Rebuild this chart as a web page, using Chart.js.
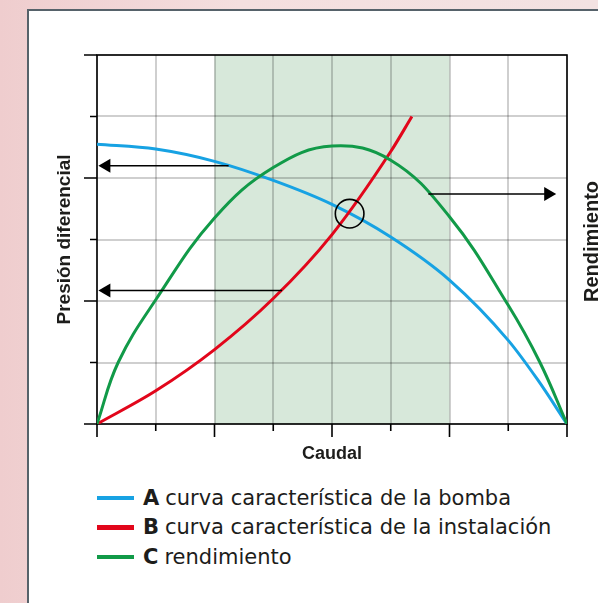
<!DOCTYPE html>
<html lang="es">
<head>
<meta charset="utf-8">
<title>Curvas de bomba e instalación</title>
<script src="https://cdn.jsdelivr.net/npm/chart.js@4.4.1/dist/chart.umd.min.js"></script>
<style>
    html, body { margin: 0; padding: 0; }
    body {
        width: 598px; height: 603px; overflow: hidden; position: relative;
        background: linear-gradient(90deg, #efcdce 0%, #f4dfdf 40%, #f3e2e2 100%);
    }
    #marco {
        position: absolute; left: 27px; top: 9px; right: -20px; bottom: -20px;
        background: #fff; border: 2.5px solid #56626a;
    }
    #grafica { position: absolute; left: 0; top: 0; }
    #leyenda {
        position: absolute; left: 97px; top: 483px; margin: 0; padding: 0; list-style: none;
        font-family: "DejaVu Sans", sans-serif; font-size: 21px; color: #1d1d1b;
    }
    #leyenda li { display: flex; align-items: center; height: 29.5px; white-space: nowrap; }
    #leyenda .muestra { width: 37px; height: 4.5px; margin-right: 9px; }
    #leyenda b { margin-right: 6px; }
</style>
</head>
<body>
<div id="marco"></div>
<canvas id="grafica" width="598" height="470"></canvas>
<ul id="leyenda"></ul>
<script>
// Datos (unidades de la cuadrícula)
const caudalBomba = [0, 1, 2, 3, 4, 5, 6, 7, 7.5, 8];
const presionBomba = [4.55, 4.47, 4.27, 3.96, 3.57, 3.04, 2.34, 1.36, 0.72, 0];
const caudalInstalacion = [0, 1, 2, 3, 4, 5, 5.36];
const presionInstalacion = [0, 0.54, 1.21, 2.04, 3.08, 4.43, 5.0];
const caudalRendimiento = [0, 0.36, 1, 2, 3, 4, 5, 6, 7, 7.54, 8];
const rendimiento = [0, 1, 2.02, 3.35, 4.17, 4.52, 4.29, 3.37, 1.93, 1, 0];

// Zona sombreada (rango de trabajo) y punto de funcionamiento
const zonaTrabajo = [2, 6];
const puntoFuncionamiento = [4.3, 3.42];

// Flechas: [x inicio, x punta], altura, sentido
const flechasX = [[2.24, 0.16], [3.15, 0.16], [5.64, 7.68]];
const flechasY = [4.2, 2.17, 3.74];
const flechasGiro = [270, 270, 90];

// Leyenda
const letras = ['A', 'B', 'C'];
const descripciones = ['curva característica de la bomba', 'curva característica de la instalación', 'rendimiento'];
const colores = ['#17a2e3', '#e2061b', '#119a48'];

const ejeX = { min: 0, max: 8 };
const ejeY = { min: 0, max: 6 };

function puntos(xs, ys) {
    return xs.map((x, i) => ({ x: x, y: ys[i] }));
}

// Leyenda en HTML
const leyenda = document.getElementById('leyenda');
letras.forEach((letra, i) => {
    const li = document.createElement('li');
    const muestra = document.createElement('span');
    muestra.className = 'muestra';
    muestra.style.background = colores[i];
    const b = document.createElement('b');
    b.textContent = letra;
    li.appendChild(muestra);
    li.appendChild(b);
    li.appendChild(document.createTextNode(descripciones[i]));
    leyenda.appendChild(li);
});

// Fondo verde de la zona de trabajo (antes de la cuadrícula)
const zonaPlugin = {
    id: 'zona',
    beforeDraw(chart) {
        const { ctx, chartArea, scales } = chart;
        const x1 = scales.x.getPixelForValue(zonaTrabajo[0]);
        const x2 = scales.x.getPixelForValue(zonaTrabajo[1]);
        ctx.save();
        ctx.fillStyle = '#d7e8da';
        ctx.fillRect(x1, chartArea.top, x2 - x1, chartArea.bottom - chartArea.top);
        ctx.restore();
    }
};

// Marco y marcas de los ejes (largas y cortas alternadas)
const marcasPlugin = {
    id: 'marcas',
    beforeDatasetsDraw(chart) {
        const { ctx, chartArea, scales } = chart;
        ctx.save();
        ctx.strokeStyle = '#000';
        ctx.lineWidth = 1.6;
        ctx.strokeRect(chartArea.left, chartArea.top, chartArea.right - chartArea.left, chartArea.bottom - chartArea.top);
        ctx.beginPath();
        scales.x.ticks.forEach((t, i) => {
            const px = scales.x.getPixelForTick(i);
            ctx.moveTo(px, chartArea.bottom);
            ctx.lineTo(px, chartArea.bottom + (i % 2 === 0 ? 13 : 7));
        });
        scales.y.ticks.forEach((t, i) => {
            const py = scales.y.getPixelForTick(i);
            ctx.moveTo(chartArea.left, py);
            ctx.lineTo(chartArea.left - (i % 2 === 0 ? 13 : 7), py);
        });
        ctx.stroke();
        ctx.restore();
    }
};

// Título del eje derecho (se lee de abajo arriba)
const rendimientoPlugin = {
    id: 'tituloDerecho',
    afterDraw(chart) {
        const { ctx, chartArea } = chart;
        ctx.save();
        ctx.translate(chartArea.right + 25, (chartArea.top + chartArea.bottom) / 2 + 2);
        ctx.rotate(-Math.PI / 2);
        ctx.font = 'bold 20px "Liberation Sans", Arial, sans-serif';
        ctx.fillStyle = '#1d1d1b';
        ctx.textAlign = 'center';
        ctx.textBaseline = 'middle';
        ctx.fillText('Rendimiento', 0, 0);
        ctx.restore();
    }
};

const curvas = [
    { data: puntos(caudalBomba, presionBomba), color: colores[0], modo: 'monotone' },
    { data: puntos(caudalInstalacion, presionInstalacion), color: colores[1], modo: 'monotone' },
    { data: puntos(caudalRendimiento, rendimiento), color: colores[2], modo: 'default' }
].map((c, i) => ({
    label: letras[i],
    data: c.data,
    borderColor: c.color,
    borderWidth: 3,
    pointRadius: 0,
    cubicInterpolationMode: c.modo,
    tension: 0.4,
    fill: false,
    order: 3 - i
}));

const flechas = flechasX.map((xs, i) => ({
    label: 'flecha' + i,
    data: xs.map(x => ({ x: x, y: flechasY[i] })),
    borderColor: '#000',
    backgroundColor: '#000',
    borderWidth: 1.5,
    tension: 0,
    pointStyle: 'triangle',
    pointRotation: flechasGiro[i],
    pointRadius: [0, 8],
    pointBorderWidth: 0,
    order: 0
}));

const circulo = {
    label: 'punto',
    data: [{ x: puntoFuncionamiento[0], y: puntoFuncionamiento[1] }],
    showLine: false,
    pointStyle: 'circle',
    pointRadius: 14.3,
    pointBorderColor: '#000',
    pointBackgroundColor: 'rgba(0,0,0,0)',
    pointBorderWidth: 1.6,
    order: -1
};

Chart.defaults.font.family = '"Liberation Sans", Arial, sans-serif';
Chart.defaults.color = '#1d1d1b';

new Chart(document.getElementById('grafica'), {
    type: 'line',
    data: { datasets: curvas.concat(flechas, [circulo]) },
    options: {
        responsive: false,
        animation: false,
        devicePixelRatio: 1,
        layout: { padding: { top: 55, left: 0, right: 31, bottom: 0 } },
        plugins: { legend: { display: false }, tooltip: { enabled: false } },
        scales: {
            x: {
                type: 'linear',
                min: ejeX.min, max: ejeX.max,
                ticks: { stepSize: 1, display: false },
                grid: { color: 'rgba(0,0,0,0.19)', lineWidth: 2, drawTicks: false },
                border: { display: false },
                title: { display: true, text: 'Caudal', font: { size: 18, weight: 'bold' }, padding: { top: 0, bottom: 5.5 } },
                afterFit(scale) { scale.height = 46; }
            },
            y: {
                type: 'linear',
                min: ejeY.min, max: ejeY.max,
                ticks: { stepSize: 1, display: false },
                grid: { color: 'rgba(0,0,0,0.19)', lineWidth: 2, drawTicks: false },
                border: { display: false },
                title: { display: true, text: 'Presión diferencial', font: { size: 19, weight: 'bold' }, padding: { top: 53, bottom: 0 } },
                afterFit(scale) { scale.width = 97; }
            }
        }
    },
    plugins: [zonaPlugin, marcasPlugin, rendimientoPlugin]
});
</script>
</body>
</html>
